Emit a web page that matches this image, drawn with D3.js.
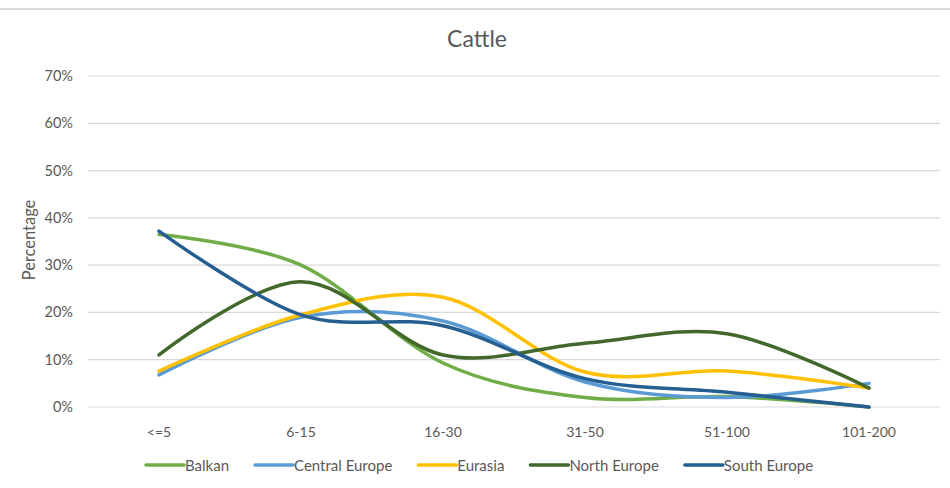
<!DOCTYPE html>
<html><head><meta charset="utf-8">
<script src="https://cdn.jsdelivr.net/npm/d3@7"></script>
<style>body{margin:0;background:#fff;} svg{display:block;font-family:Lato,"Open Sans",sans-serif;}</style>
</head><body>
<svg id="c" width="950" height="488"></svg>
<script>
const categories = ["<=5","6-15","16-30","31-50","51-100","101-200"];
const seriesNames = ["Balkan","Central Europe","Eurasia","North Europe","South Europe"];
const balkan        = [0.365, 0.30, 0.093, 0.02, 0.022, 0.0];
const centralEurope = [0.068, 0.19, 0.182, 0.053, 0.02, 0.05];
const eurasia       = [0.076, 0.195, 0.232, 0.074, 0.076, 0.04];
const northEurope   = [0.11, 0.265, 0.11, 0.135, 0.155, 0.04];
const southEurope   = [0.372, 0.195, 0.172, 0.06, 0.031, 0.0];
const yTicks = [0,0.1,0.2,0.3,0.4,0.5,0.6,0.7];
const colors = ["#70AD47","#5B9BD5","#FFC000","#43682B","#255E91"];
const allSeries = [balkan, centralEurope, eurasia, northEurope, southEurope];

const svg = d3.select("#c");
const W = 950, H = 488;
svg.append("line").attr("x1",0).attr("x2",W).attr("y1",9).attr("y2",9).attr("stroke","#d9d9d9").attr("stroke-width",2);

const x = d3.scalePoint().domain(categories).range([88,940]).padding(0.5);
const y = d3.scaleLinear().domain([0,0.7]).range([407,76]);

svg.append("text").attr("x",477).attr("y",47).attr("text-anchor","middle")
  .attr("font-size",23).attr("fill","#595959").text("Cattle");

const gy = svg.append("g");
yTicks.forEach(t=>{
  gy.append("line").attr("x1",88).attr("x2",940).attr("y1",y(t)).attr("y2",y(t))
    .attr("stroke","#d9d9d9").attr("stroke-width",1.2);
  gy.append("text").attr("x",73).attr("y",y(t)+5).attr("text-anchor","end")
    .attr("font-size",14.5).attr("fill","#595959").text(d3.format(".0%")(t));
});
categories.forEach(c=>{
  svg.append("text").attr("x",x(c)).attr("y",437).attr("text-anchor","middle")
    .attr("font-size",14).attr("fill","#595959").text(c);
});
svg.append("text").attr("transform","translate(35,240) rotate(-90)").attr("text-anchor","middle")
  .attr("font-size",16.5).attr("fill","#595959").text("Percentage");

const line = d3.line().x((d,i)=>x(categories[i])).y(d=>y(d)).curve(d3.curveCardinal.tension(0));
allSeries.forEach((s,i)=>{
  svg.append("path").attr("d",line(s)).attr("fill","none").attr("stroke",colors[i])
    .attr("stroke-width",3.5).attr("stroke-linecap","round");
});

const lg = svg.append("g");
let lx = 146;
seriesNames.forEach((n,i)=>{
  lg.append("line").attr("x1",lx).attr("x2",lx+38).attr("y1",465).attr("y2",465)
    .attr("stroke",colors[i]).attr("stroke-width",3.5).attr("stroke-linecap","round");
  const t = lg.append("text").attr("x",lx+39).attr("y",470.5).attr("font-size",15)
    .attr("fill","#595959").text(n);
  lx += 39 + t.node().getComputedTextLength() + 26;
});
</script>
</body></html>
